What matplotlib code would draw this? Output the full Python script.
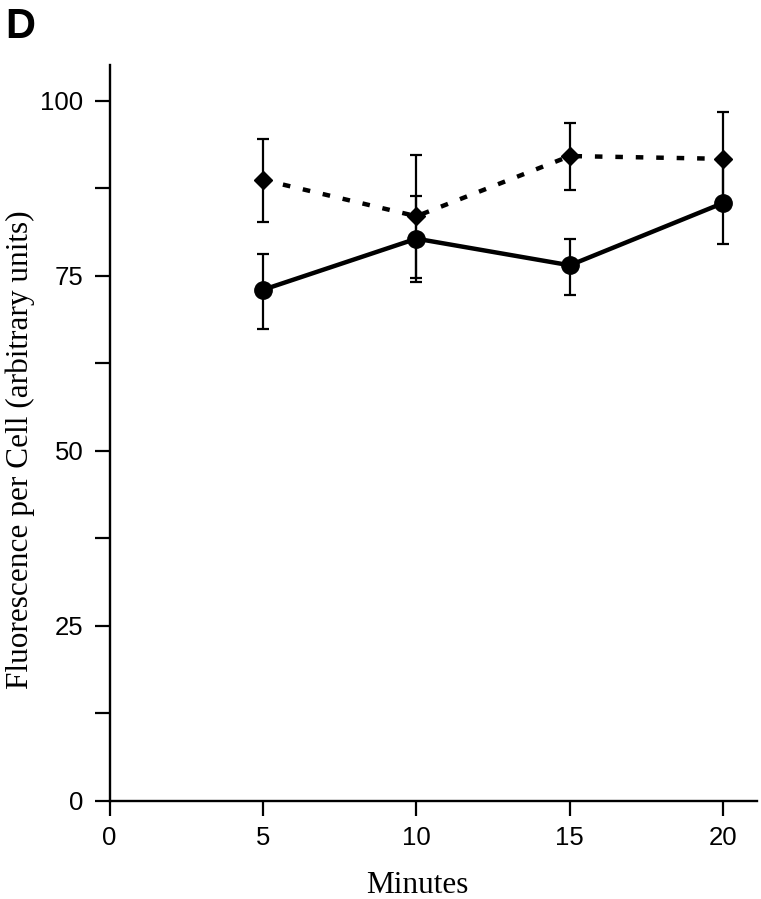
import matplotlib
matplotlib.use("Agg")
import matplotlib.pyplot as plt

minutes = [5, 10, 15, 20]
circle_vals = [73.0, 80.3, 76.5, 85.4]
circle_err_lo = [5.6, 6.2, 4.2, 5.8]
circle_err_hi = [5.1, 6.1, 3.7, 5.8]
diamond_vals = [88.7, 83.5, 92.1, 91.7]
diamond_err_lo = [6.0, 8.8, 4.9, 6.7]
diamond_err_hi = [5.9, 8.8, 4.7, 6.7]
xticks = [0, 5, 10, 15, 20]
yticks = [0, 25, 50, 75, 100]
yminor = [12.5, 37.5, 62.5, 87.5]

W, H = 761, 899
fig = plt.figure(figsize=(W / 100, H / 100), dpi=100)
ax = fig.add_axes([109.6 / W, 98 / H, (757 - 109.6) / W, (801 - 65) / H])

sans = ["Liberation Sans", "DejaVu Sans"]
serif = ["Liberation Serif", "DejaVu Serif"]

ax.errorbar(minutes, diamond_vals, yerr=[diamond_err_lo, diamond_err_hi],
            fmt="none", ecolor="black", elinewidth=1.6, capsize=4.5, capthick=1.6, zorder=2)
ax.errorbar(minutes, circle_vals, yerr=[circle_err_lo, circle_err_hi],
            fmt="none", ecolor="black", elinewidth=1.6, capsize=4.5, capthick=1.6, zorder=2)

ax.plot(minutes, diamond_vals, color="black", lw=3.2, linestyle=(0, (1.7, 2.9)),
        dash_capstyle="butt", zorder=3)
ax.plot(minutes, diamond_vals, linestyle="none", marker="D", markersize=9,
        color="black", zorder=4)
ax.plot(minutes, circle_vals, color="black", lw=3.2, marker="o", markersize=12.5,
        zorder=5)

ax.set_xlim(0, 21.1)
ax.set_ylim(0, 105.1)
ax.set_xticks(xticks)
ax.set_yticks(yticks)
ax.set_yticks(yminor, minor=True)
ax.set_xticklabels([str(t) for t in xticks], fontfamily=sans, fontsize=18.5)
ax.set_yticklabels([str(t) for t in yticks], fontfamily=sans, fontsize=18.5)
ax.tick_params(axis="both", which="both", direction="out", length=11, width=1.6,
               color="black")
ax.tick_params(axis="y", which="major", pad=8)
ax.tick_params(axis="x", which="major", pad=7)
for s in ["top", "right"]:
    ax.spines[s].set_visible(False)
for s in ["left", "bottom"]:
    ax.spines[s].set_linewidth(1.7)

fig.text(20 / W, 1 - 450 / H, "Fluorescence per Cell (arbitrary units)", rotation=90,
         ha="center", va="center", fontfamily=serif, fontsize=22.5)
fig.text(417.5 / W, (H - 893) / H, "Minutes", ha="center", va="baseline",
         fontfamily=serif, fontsize=22.5)
fig.text(5 / W, 1 - 38 / H, "D", ha="left", va="baseline", fontfamily=sans,
         fontweight="bold", fontsize=30)

fig.savefig("out.png", dpi=100)
